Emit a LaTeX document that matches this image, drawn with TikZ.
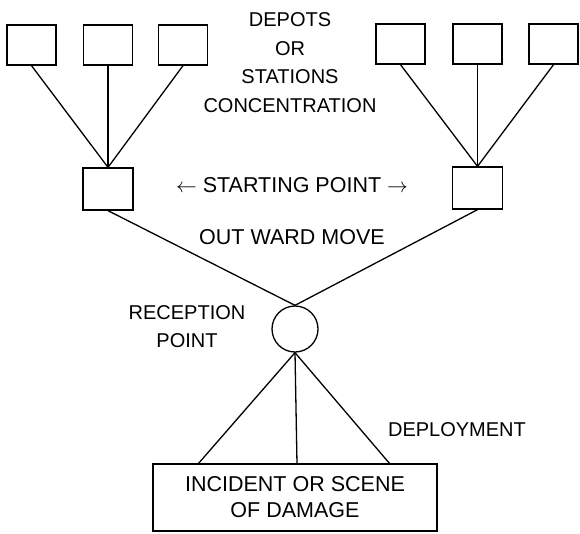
\documentclass[tikz,border=0pt]{standalone}
\usepackage{fontspec}
\setmainfont{Liberation Sans}
\usetikzlibrary{shapes}
\tikzstyle{depot} = [draw, rectangle, minimum width=49pt, minimum height=40pt, inner sep=0pt]
\tikzstyle{start} = [draw, rectangle, minimum width=50pt, minimum height=42pt, inner sep=0pt]
\tikzstyle{recep} = [draw, circle, minimum size=46pt, inner sep=0pt]
\tikzstyle{scene} = [draw, rectangle, minimum width=284pt, minimum height=67pt, align=center, font=\fontsize{21.5}{26}\selectfont]
\tikzstyle{txt} = [align=center, inner sep=0pt, font=\fontsize{20}{28.5}\selectfont]

\begin{document}
\begin{tikzpicture}[x=1pt,y=-1pt,line width=1.3pt]
	\useasboundingbox (0,0) rectangle (580,533);
	% put the boxes where we want them
	\node [depot] (dl1) at (31.5,45) {};
	\node [depot] (dl2) at (108,45) {};
	\node [depot] (dl3) at (183,45) {};
	\node [depot] (dr1) at (400.5,44) {};
	\node [depot] (dr2) at (477.5,44) {};
	\node [depot] (dr3) at (553.5,44) {};
	\node [start] (sl) at (108,189) {};
	\node [start] (sr) at (477.5,188) {};
	\node [recep] (rp) at (295,329) {};
	\node [scene] (sc) at (295,497.5) {INCIDENT OR SCENE\\OF DAMAGE};

	% the texts
	\node [txt,anchor=north] (depots) at (290,12) {DEPOTS\\OR\\STATIONS\\CONCENTRATION};
	\node [txt,font=\fontsize{21.5}{26}\selectfont] (startpt) at (292,185) {$\leftarrow$ STARTING POINT $\rightarrow$};
	\node [txt,font=\fontsize{21.5}{26}\selectfont] (outward) at (292,237.5) {OUT WARD MOVE};
	\node [txt,anchor=north,font=\fontsize{20}{28}\selectfont] (recpt) at (187,305) {RECEPTION\\POINT};
	\node [txt] (deploy) at (457,429.5) {DEPLOYMENT};

	% concentration
	\foreach \i in {1,2,3} {
		\draw (dl\i.south) -- (sl.north);
		\draw (dr\i.south) -- (sr.north);
	}
	% out ward move
	\draw (sl.south) -- (rp.north);
	\draw (sr.south) -- (rp.north);
	% deployment
	\coordinate (f1) at (198,464);
	\coordinate (f2) at (297,464);
	\coordinate (f3) at (390,464);
	\foreach \f in {f1,f2,f3}
		\draw (rp.south) -- (\f);
\end{tikzpicture}
\end{document}
